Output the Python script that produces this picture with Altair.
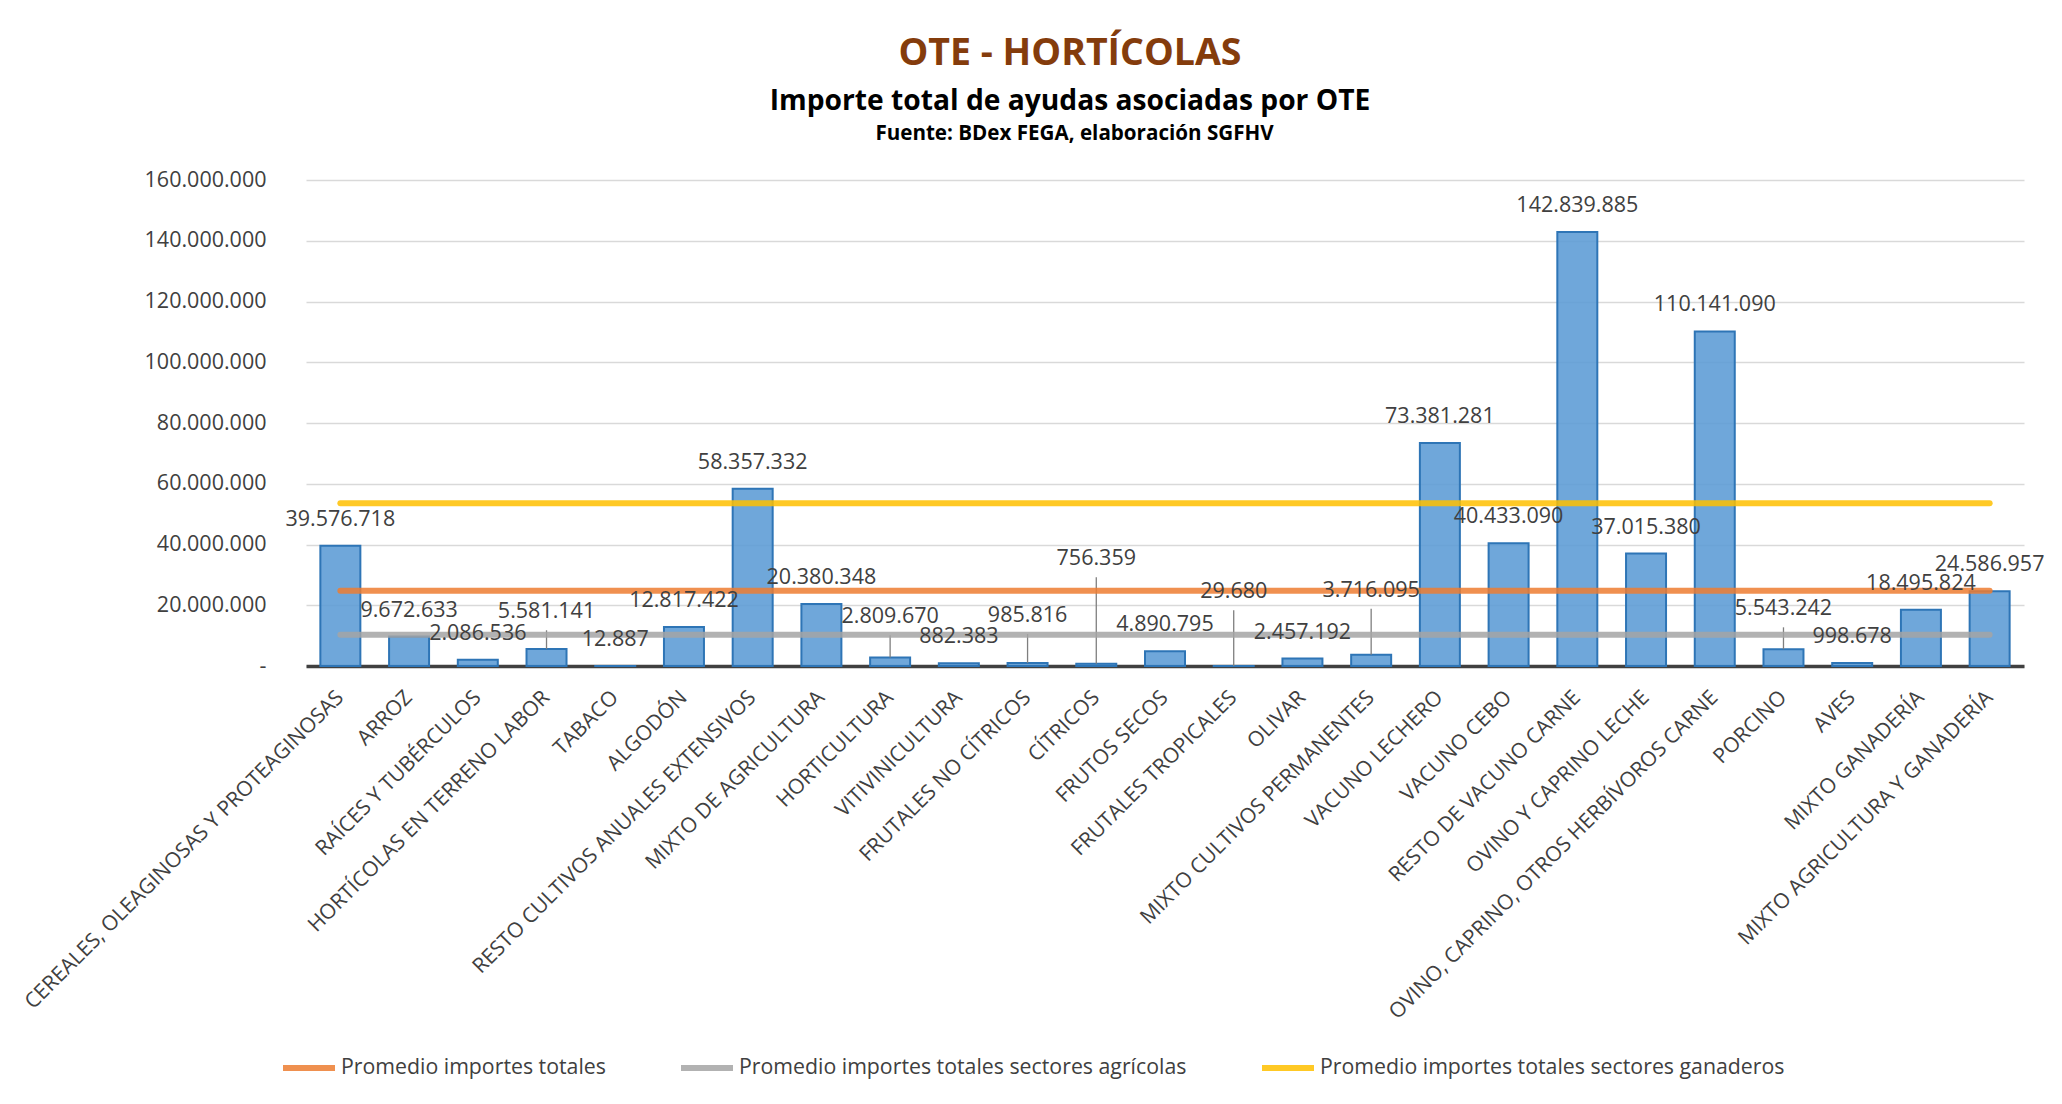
import altair as alt
import pandas as pd

# ---------------- data ----------------
categories = [
    "CEREALES, OLEAGINOSAS Y PROTEAGINOSAS", "ARROZ", "RAÍCES Y TUBÉRCULOS",
    "HORTÍCOLAS EN TERRENO LABOR", "TABACO", "ALGODÓN",
    "RESTO CULTIVOS ANUALES EXTENSIVOS", "MIXTO DE AGRICULTURA", "HORTICULTURA",
    "VITIVINICULTURA", "FRUTALES NO CÍTRICOS", "CÍTRICOS", "FRUTOS SECOS",
    "FRUTALES TROPICALES", "OLIVAR", "MIXTO CULTIVOS PERMANENTES",
    "VACUNO LECHERO", "VACUNO CEBO", "RESTO DE VACUNO CARNE",
    "OVINO Y CAPRINO LECHE", "OVINO, CAPRINO, OTROS HERBÍVOROS CARNE",
    "PORCINO", "AVES", "MIXTO GANADERÍA", "MIXTO AGRICULTURA Y GANADERÍA",
]
values = [
    39576718, 9672633, 2086536, 5581141, 12887, 12817422, 58357332, 20380348,
    2809670, 882383, 985816, 756359, 4890795, 29680, 2457192, 3716095,
    73381281, 40433090, 142839885, 37015380, 110141090, 5543242, 998678,
    18495824, 24586957,
]
# labels that were dragged upward (with a leader line): value-axis level they sit at
moved_label_level = {
    3: 9130000, 8: 7480000, 10: 7900000, 11: 26600000,
    13: 15700000, 15: 16200000, 21: 10100000,
}
avg_names = [
    "Promedio importes totales",
    "Promedio importes totales sectores agrícolas",
    "Promedio importes totales sectores ganaderos",
]
avg_values = [24740000, 10310000, 53610000]
avg_colors = ["#ED7D31", "#A5A5A5", "#FFC000"]
y_ticks = [0, 20000000, 40000000, 60000000, 80000000,
           100000000, 120000000, 140000000, 160000000]

title_text = "OTE - HORTÍCOLAS"
subtitle_text = "Importe total de ayudas asociadas por OTE"
source_text = "Fuente: BDex FEGA, elaboración SGFHV"

FONT = "Open Sans"
TXT = "#404040"

# ---------------- tables ----------------
df = pd.DataFrame({
    "cat": categories,
    "value": values,
    "label": [f"{v:,}".replace(",", ".") for v in values],
    "level": [moved_label_level.get(i, v) for i, v in enumerate(values)],
})
lead_df = df[df.index.isin(list(moved_label_level.keys()))].copy()
avg_df = pd.DataFrame({
    "name": avg_names,
    "value": avg_values,
    "start": [categories[0]] * 3,
    "end": [categories[-1]] * 3,
})

x_scale = alt.Scale(domain=categories, paddingInner=0.418, paddingOuter=0.209)
y_scale = alt.Scale(domain=[0, 160000000], nice=False)

y_axis = alt.Axis(
    values=y_ticks, title=None, domain=False, ticks=False, labelPadding=40,
    labelFont=FONT, labelFontSize=21.5, labelColor=TXT,
    gridColor="#D9D9D9", gridWidth=1.5,
    labelExpr="datum.value == 0 ? '-\u2002' : replace(format(datum.value, ',d'), regexp(',', 'g'), '.')",
)
x_axis = alt.Axis(
    title=None, labelAngle=-45, labelAlign="right", labelBaseline="middle",
    labelFont=FONT, labelFontSize=21, labelColor=TXT, labelPadding=28,
    ticks=False, tickSize=0, domainColor="#404040", domainWidth=3.5,
    grid=False, labelLimit=800,
)
top_axis = alt.Axis(
    orient="top", title=source_text, labels=False, ticks=False, domain=False,
    grid=False, titleFont=FONT, titleFontSize=20.6, titleFontWeight="bold",
    titleColor="#000000", titlePadding=37, titleX=768, titleAlign="center",
)

bars = alt.Chart(df).mark_bar(
    color="#5B9BD5", fillOpacity=0.88, stroke="#2E75B6", strokeWidth=2
).encode(
    x=alt.X("cat:N", scale=x_scale, sort=categories, axis=x_axis),
    y=alt.Y("value:Q", scale=y_scale, axis=y_axis),
)

leaders = alt.Chart(lead_df).mark_rule(
    color="#7F7F7F", strokeWidth=1.3, yOffset=-8
).encode(
    x=alt.X("cat:N", sort=categories, axis=None),
    y=alt.Y("level:Q", scale=y_scale, axis=y_axis),
    y2="value:Q",
)

lines = alt.Chart(avg_df).mark_rule(
    strokeWidth=6, strokeCap="round", opacity=0.85
).encode(
    x=alt.X("start:N", sort=categories, axis=None),
    x2="end:N",
    y=alt.Y("value:Q", scale=y_scale, axis=y_axis),
    color=alt.Color(
        "name:N",
        scale=alt.Scale(domain=avg_names, range=avg_colors),
        legend=alt.Legend(
            orient="none", legendX=-26, legendY=859, direction="horizontal",
            title=None, symbolType="stroke", symbolSize=2704,
            symbolStrokeWidth=6, symbolOpacity=0.85,
            labelFont=FONT, labelFontSize=21.3, labelColor=TXT, labelOffset=3,
            columnPadding=63, labelLimit=800, padding=0,
        ),
    ),
)

texts = alt.Chart(df).mark_text(
    dy=-26, baseline="middle", font=FONT, fontSize=21.5, color=TXT
).encode(
    x=alt.X("cat:N", sort=categories, axis=top_axis),
    y=alt.Y("level:Q", scale=y_scale, axis=y_axis),
    text="label:N",
)

chart = alt.layer(bars, leaders, lines, texts).resolve_axis(
    x="independent"
).properties(
    width=1718, height=486,
    padding={"left": 298, "top": 172, "right": 30, "bottom": 420},
    autosize=alt.AutoSizeParams(type="none"),
    title=alt.Title(
        text=title_text, subtitle=subtitle_text,
        font=FONT, fontSize=37.5, fontWeight="bold", color="#843C0C",
        subtitleFont=FONT, subtitleFontSize=28.2, subtitleFontWeight="bold",
        subtitleColor="#000000", subtitlePadding=15,
        anchor="middle", dx=-95, offset=8,
    ),
).configure_view(stroke=None)

chart.save("out.html", embed_options={"renderer": "svg", "actions": False})
